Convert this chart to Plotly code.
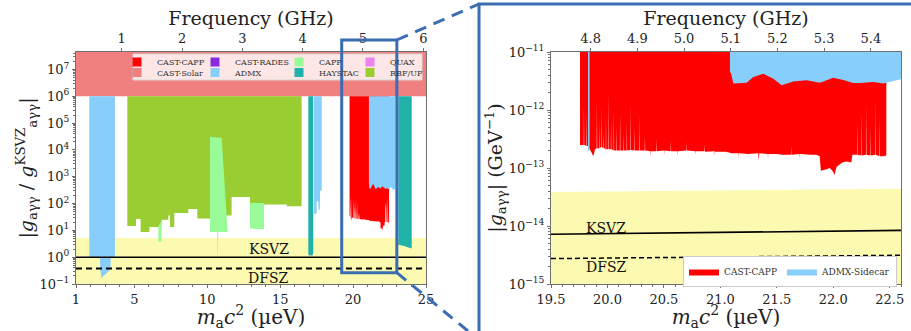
import numpy as np
import plotly.graph_objects as go

UEV_PER_GHZ = 4.1357
FONT = "DejaVu Serif"

# ---------------- data: left panel (|g / g_KSVZ|) ----------------
left_m_range = [1, 25]
left_logy_range = [-1, 7.65]
left_decades = [-1, 0, 1, 2, 3, 4, 5, 6, 7]
solar_floor = 1e6            # CAST-Solar limit (ratio)
band_top_ratio = 5.2         # yellow model band upper edge (ratio)
ksvz_ratio = 1.0
dfsz_ratio = 0.38

admx1_m = [1.91, 2.64, 2.66, 2.76, 2.87, 2.99, 3.10, 3.22, 3.36, 3.38, 3.67]
admx1_r = [1.0, 1.0, 0.35, 0.16, 0.20, 0.22, 0.25, 0.30, 0.35, 1.0, 1.0]

rbf_edges = [4.52, 5.11, 5.43, 6.03, 6.65, 6.87, 7.33, 7.45, 7.74, 8.70, 9.32, 10.19,
             11.67, 12.93, 13.89, 15.45, 16.47]
rbf_vals = [14.6, 26.6, 8.7, 13.4, 13.4, 25, 36, 13.4, 44, 63, 27.5, 36, 174, 105, 93, 79]

capp_strip_m = [6.65, 6.87]
capp_strip_lo = [3.7, 3.9]
capp_strip_hi = [13.4, 25]

capp_spike_lo_m = [10.19, 10.68, 10.70, 10.73, 10.75, 11.40]
capp_spike_lo = [8.7, 8.7, 1.2, 1.2, 8.7, 8.7]
capp_spike_hi_m = [10.19, 10.99, 11.40]
capp_spike_hi = [3.1e4, 2.8e4, 8.7]

capp_block_m = [12.93, 13.89]
capp_block_lo = [11.7, 11.0]
capp_block_hi = [105, 105]

haystac1_m = [16.93, 16.97, 17.22, 17.27]
haystac1_r = [1.4, 1.15, 1.15, 1.5]

admx2_m = [17.32, 17.50, 17.50, 17.62, 17.62, 17.72, 17.74, 17.85]
admx2_r = [42, 42, 120, 120, 60, 60, 300, 300]

haystac2_m = [23.10, 23.30, 23.50, 23.80, 24.00, 24.02]
haystac2_r = [2.9, 2.8, 2.6, 2.3, 2.1, 2.4]

# ---------------- data: right panel (|g| in GeV^-1) ----------------
right_m_range = [19.5, 22.6]
right_logy_range = [-15, -11]
right_decades = [-15, -14, -13, -12, -11]

ksvz_m = [19.5, 22.6]
ksvz_g = [7.2e-15, 8.4e-15]
dfsz_g = [2.74e-15, 3.13e-15]
band_g = [3.85e-14, 4.4e-14]

# CAST-CAPP lower edge of the excluded region
cast_capp_m = [
    19.757, 19.790, 19.792, 19.794, 19.815, 19.817, 19.819, 19.830, 19.860, 19.875,
    19.890, 19.905, 19.907, 19.909, 19.925, 19.927, 19.929, 19.945, 19.947, 19.949,
    19.965, 19.967, 19.969, 19.985, 19.987, 19.989, 20.005, 20.007, 20.009, 20.030,
    20.032, 20.034, 20.055, 20.057, 20.059, 20.080, 20.082, 20.084, 20.110, 20.112,
    20.114, 20.140, 20.142, 20.144, 20.170, 20.172, 20.174, 20.200, 20.202, 20.204,
    20.240, 20.242, 20.244, 20.280, 20.282, 20.284, 20.330, 20.332, 20.334, 20.380,
    20.382, 20.384, 20.430, 20.432, 20.434, 20.500, 20.502, 20.504, 20.560, 20.562,
    20.564, 20.620, 20.622, 20.624, 20.700, 20.702, 20.704, 20.780, 20.782, 20.784,
    20.860, 20.862, 20.864, 20.950, 20.952, 20.954, 21.050, 21.100, 21.160, 21.162,
    21.164, 21.250, 21.335, 21.340, 21.345, 21.420, 21.422, 21.424, 21.500, 21.550,
    21.625, 21.627, 21.629, 21.700, 21.702, 21.704, 21.800, 21.850, 21.880, 21.890,
    21.940, 21.970, 22.000, 22.010, 22.020, 22.030, 22.080, 22.120, 22.160, 22.170,
    22.210, 22.212, 22.214, 22.250, 22.252, 22.254, 22.290, 22.292, 22.294, 22.330,
    22.332, 22.334, 22.370, 22.372, 22.374, 22.410, 22.412, 22.414, 22.440, 22.470]
cast_capp_g = [
    2.5e-13, 2.5e-13, 1.2e-12, 2.5e-13, 2.4e-13, 9.0e-13, 2.4e-13, 2.4e-13, 1.9e-13, 1.6e-13,
    2.1e-13, 2.2e-13, 1.5e-12, 2.2e-13, 2.2e-13, 6.0e-13, 2.2e-13, 2.3e-13, 1.1e-12, 2.3e-13,
    2.2e-13, 4.0e-13, 2.2e-13, 2.1e-13, 8.0e-13, 2.1e-13, 2.1e-13, 2.0e-12, 2.1e-13, 2.1e-13,
    7.0e-13, 2.1e-13, 2.0e-13, 1.0e-12, 2.0e-13, 2.0e-13, 5.0e-13, 2.0e-13, 2.0e-13, 9.0e-13,
    2.0e-13, 2.0e-13, 4.0e-13, 2.0e-13, 2.0e-13, 6.0e-13, 2.0e-13, 2.05e-13, 1.3e-12, 2.05e-13,
    2.0e-13, 5.0e-13, 2.0e-13, 2.0e-13, 8.0e-13, 2.0e-13, 2.0e-13, 3.5e-13, 2.0e-13, 1.95e-13,
    1.6e-13, 1.95e-13, 1.95e-13, 3.2e-13, 1.95e-13, 2.0e-13, 1.7e-13, 2.0e-13, 1.95e-13, 3.0e-13,
    1.95e-13, 1.95e-13, 1.65e-13, 1.95e-13, 2.0e-13, 2.8e-13, 2.0e-13, 1.95e-13, 1.7e-13, 1.95e-13,
    1.95e-13, 2.6e-13, 1.9e-13, 1.95e-13, 1.6e-13, 1.9e-13, 1.9e-13, 1.8e-13, 1.8e-13, 1.5e-13,
    1.8e-13, 1.75e-13, 1.8e-13, 1.35e-13, 1.8e-13, 1.75e-13, 1.45e-13, 1.75e-13, 1.75e-13, 1.7e-13,
    1.7e-13, 2.4e-13, 1.7e-13, 1.75e-13, 1.45e-13, 1.75e-13, 1.7e-13, 1.7e-13, 1.6e-13, 9.0e-14,
    9.5e-14, 1.0e-13, 8.5e-14, 7.5e-14, 9.0e-14, 1.05e-13, 1.25e-13, 1.3e-13, 1.25e-13, 1.7e-13,
    1.7e-13, 6.0e-13, 1.7e-13, 1.65e-13, 9.0e-13, 1.65e-13, 1.7e-13, 1.2e-12, 1.7e-13, 1.65e-13,
    5.0e-13, 1.65e-13, 1.7e-13, 1.5e-12, 1.7e-13, 1.6e-13, 8.0e-13, 1.6e-13, 1.6e-13, 1.65e-13]
cast_capp_top = 1e-11

sidecar_m = [21.085, 21.095, 21.115, 21.233, 21.292, 21.381, 21.469, 21.543, 21.646, 21.764,
             21.882, 22.000, 22.089, 22.178, 22.237, 22.355, 22.443, 22.532, 22.600, 22.750, 22.880]
sidecar_g = [4.5e-12, 4.3e-12, 2.85e-12, 2.95e-12, 3.7e-12, 4.2e-12, 3.45e-12, 2.67e-12, 3.1e-12, 3.25e-12,
             2.95e-12, 3.6e-12, 3.3e-12, 2.92e-12, 2.92e-12, 3.05e-12, 2.85e-12, 3.16e-12, 3.4e-12, 2.8e-12, 2.8e-12]
sidecar_stripe_m = [19.828, 19.842]
sidecar_stripe_g = [2.0e-13, 2.0e-13]

freq_ticks_left = [1, 2, 3, 4, 5, 6]
freq_ticks_right = [4.8, 4.9, 5.0, 5.1, 5.2, 5.3, 5.4]
mass_ticks_left = [1, 5, 10, 15, 20, 25]
mass_ticks_right = [19.5, 20.0, 20.5, 21.0, 21.5, 22.0, 22.5]

legend_cols = [["CAST-CAPP", "CAST-Solar"], ["CAST-RADES", "ADMX"],
               ["CAPP", "HAYSTAC"], ["QUAX", "RBF/UF"]]

# ---------------- styles ----------------
COL = {"CAST-CAPP": "#FF0000", "CAST-Solar": "#F08080", "CAST-RADES": "#8A2BE2",
       "ADMX": "#87CEFA", "CAPP": "#98FB98", "HAYSTAC": "#20B2AA", "QUAX": "#EE82EE",
       "RBF/UF": "#9ACD32", "ADMX-Sidecar": "#87CEFA"}
BAND = "#FBFAB0"
FRAME = "#6f6f6f"
BLUE = "#3A6DB2"

# plot area in pixels (fig 911 x 331)
PL, PR, PT, PB = 76, 901, 52, 284
PW, PH = PR - PL, PB - PT
left_dom = [0, (426 - PL) / PW]
right_dom = [(551 - PL) / PW, 1]

def px_x(p):
    return (p - PL) / PW

def px_y(p):
    return (PB - p) / PH

# left-panel conversion: |g| / g_KSVZ(m) with g_KSVZ proportional to m
K_KSVZ = float(np.mean(np.array(ksvz_g) / np.array(ksvz_m)))

def to_ratio(m, g):
    return list(np.array(g) / (K_KSVZ * np.array(m)))

def steps(edges, vals):
    xs, ys = [], []
    for i, v in enumerate(vals):
        xs += [edges[i], edges[i + 1]]
        ys += [v, v]
    return xs, ys

def pow10(k):
    return "10<sup>" + str(k).replace("-", "\u2212") + "</sup>"

fig = go.Figure()

def poly(lo_x, lo_y, hi_x, hi_y, color, axes):
    xs = list(lo_x) + list(hi_x)[::-1]
    ys = list(lo_y) + list(hi_y)[::-1]
    fig.add_trace(go.Scatter(x=xs, y=ys, fill="toself", fillcolor=color, mode="lines",
                             line=dict(width=0, color=color), showlegend=False,
                             hoverinfo="skip", xaxis=axes[0], yaxis=axes[1]))

def region(xs, lo, top, color, axes):
    poly(xs, lo, [xs[0], xs[-1]], [top, top], color, axes)

L = ("x", "y")
R = ("x2", "y2")

# ---- left panel ----
poly(left_m_range, [0.01, 0.01], left_m_range, [band_top_ratio] * 2, BAND, L)
poly(left_m_range, [solar_floor] * 2, left_m_range, [1e9, 1e9], COL["CAST-Solar"], L)
region(admx1_m, admx1_r, solar_floor, COL["ADMX"], L)
sx, sy = steps(rbf_edges, rbf_vals)
region(sx, sy, solar_floor, COL["RBF/UF"], L)
poly(capp_strip_m, capp_strip_lo, capp_strip_m, capp_strip_hi, COL["CAPP"], L)
poly(capp_spike_lo_m, capp_spike_lo, capp_spike_hi_m, capp_spike_hi, COL["CAPP"], L)
poly(capp_block_m, capp_block_lo, capp_block_m, capp_block_hi, COL["CAPP"], L)
region(haystac1_m, haystac1_r, solar_floor, COL["HAYSTAC"], L)
region(admx2_m, admx2_r, solar_floor, COL["ADMX"], L)
region(cast_capp_m, to_ratio(cast_capp_m, cast_capp_g), solar_floor, COL["CAST-CAPP"], L)
region(sidecar_m, to_ratio(sidecar_m, sidecar_g), solar_floor, COL["ADMX"], L)
region(haystac2_m, haystac2_r, solar_floor, COL["HAYSTAC"], L)
fig.add_trace(go.Scatter(x=left_m_range, y=[ksvz_ratio] * 2, mode="lines",
                         line=dict(color="black", width=1.6), showlegend=False, hoverinfo="skip"))
fig.add_trace(go.Scatter(x=left_m_range, y=[dfsz_ratio] * 2, mode="lines",
                         line=dict(color="black", width=2, dash="6px,4px"), showlegend=False, hoverinfo="skip"))

# ---- right panel ----
poly(right_m_range, [1e-16, 1e-16], right_m_range, band_g, BAND, R)
region(cast_capp_m, cast_capp_g, cast_capp_top, COL["CAST-CAPP"], R)
region(sidecar_m, sidecar_g, cast_capp_top, COL["ADMX-Sidecar"], R)
region(sidecar_stripe_m, sidecar_stripe_g, cast_capp_top, COL["ADMX-Sidecar"], R)
fig.add_trace(go.Scatter(x=ksvz_m, y=ksvz_g, mode="lines", line=dict(color="black", width=1.6),
                         showlegend=False, hoverinfo="skip", xaxis="x2", yaxis="y2"))
fig.add_trace(go.Scatter(x=ksvz_m, y=dfsz_g, mode="lines", line=dict(color="black", width=1.5, dash="5px,3px"),
                         showlegend=False, hoverinfo="skip", xaxis="x2", yaxis="y2"))

# invisible anchors for the frequency axes
fig.add_trace(go.Scatter(x=[freq_ticks_left[0]], y=[1], xaxis="x3", yaxis="y", mode="markers",
                         marker=dict(opacity=0), showlegend=False, hoverinfo="skip"))
fig.add_trace(go.Scatter(x=[freq_ticks_right[0]], y=[1e-12], xaxis="x4", yaxis="y2", mode="markers",
                         marker=dict(opacity=0), showlegend=False, hoverinfo="skip"))

# ---- legends ----
legend_layout = {}
col_text_px = [157, 235, 319, 390]
row_center_px = [62, 72.5]
k = 0
for ci, col in enumerate(legend_cols):
    for ri, name in enumerate(col):
        k += 1
        lid = "legend" if k == 1 else f"legend{k}"
        fig.add_trace(go.Scatter(x=[None], y=[None], name=name, mode="markers",
                                 marker=dict(symbol="square", size=9, color=COL[name]),
                                 legend=lid, showlegend=True))
        legend_layout[lid] = dict(x=px_x(col_text_px[ci] - 40), xanchor="left",
                                  y=px_y(row_center_px[ri]), yanchor="middle",
                                  bgcolor="rgba(0,0,0,0)", borderwidth=0, itemwidth=30,
                                  font=dict(family=FONT, size=8, color="#333"),
                                  tracegroupgap=0)
k += 1
rl = f"legend{k}"
for name, cname in [("CAST-CAPP", "CAST-CAPP"), ("ADMX-Sidecar", "ADMX-Sidecar")]:
    fig.add_trace(go.Scatter(x=[None], y=[None], name=name, fill="toself", mode="lines",
                             fillcolor=COL[cname], line=dict(width=0, color=COL[cname]),
                             legend=rl, showlegend=True, xaxis="x2", yaxis="y2"))
legend_layout[rl] = dict(x=px_x(897), xanchor="right", y=px_y(271.5), yanchor="middle",
                         orientation="h", bgcolor="white", bordercolor="#cccccc", borderwidth=1,
                         itemwidth=30, font=dict(family=FONT, size=9, color="#333"))

# ---- axes ----
tickfont = dict(family=FONT, size=13, color="#222")
common = dict(showgrid=False, zeroline=False, ticks="outside", ticklen=3, tickcolor=FRAME,
              showline=True, linecolor=FRAME, linewidth=1, mirror=True, tickfont=tickfont,
              automargin=False)
minor_log = dict(ticks="outside", ticklen=2, tickcolor=FRAME, dtick="D1")

m_title = "<i>m</i><sub>a</sub><i>c</i><sup>2</sup> (µeV)"
fig.update_layout(
    template="none",
    width=911, height=331,
    margin=dict(l=PL, r=911 - PR, t=PT, b=331 - PB, pad=0),
    paper_bgcolor="white", plot_bgcolor="white",
    font=dict(family=FONT, color="#222"),
    xaxis=dict(domain=left_dom, anchor="y", range=left_m_range, tickvals=mass_ticks_left,
               minor=dict(ticks="outside", ticklen=2, tickcolor=FRAME, dtick=1),
               title=dict(text=m_title, font=dict(family=FONT, size=20), standoff=0), **common),
    yaxis=dict(domain=[0, 1], anchor="x", type="log", range=left_logy_range,
               tickvals=[10.0 ** d for d in left_decades], ticktext=[pow10(d) for d in left_decades],
               minor=minor_log,
               title=dict(text="|<i>g</i><sub>aγγ</sub> / <i>g</i><sup>KSVZ</sup><sub>aγγ</sub>|",
                          font=dict(family=FONT, size=19), standoff=0),
               **common),
    xaxis2=dict(domain=right_dom, anchor="y2", range=right_m_range,
                tickvals=mass_ticks_right, tickformat=".1f",
                minor=dict(ticks="outside", ticklen=2, tickcolor=FRAME, dtick=0.1),
                title=dict(text=m_title, font=dict(family=FONT, size=20), standoff=0), **common),
    yaxis2=dict(domain=[0, 1], anchor="x2", type="log", range=right_logy_range,
                tickvals=[10.0 ** d for d in right_decades], ticktext=[pow10(d) for d in right_decades],
                minor=minor_log,
                title=dict(text="|<i>g</i><sub>aγγ</sub>| (GeV<sup>−1</sup>)",
                           font=dict(family=FONT, size=19), standoff=0),
                **common),
    xaxis3=dict(overlaying="x", side="top", anchor="y", automargin=False,
                range=[left_m_range[0] / UEV_PER_GHZ, left_m_range[1] / UEV_PER_GHZ],
                tickvals=freq_ticks_left, showgrid=False, zeroline=False, ticks="outside",
                ticklen=3, tickcolor=FRAME, tickfont=tickfont,
                title=dict(text="Frequency (GHz)", font=dict(family=FONT, size=19), standoff=0)),
    xaxis4=dict(overlaying="x2", side="top", anchor="y2", automargin=False,
                range=[right_m_range[0] / UEV_PER_GHZ, right_m_range[1] / UEV_PER_GHZ],
                tickvals=freq_ticks_right, tickformat=".1f", showgrid=False, zeroline=False,
                ticks="outside", ticklen=3, tickcolor=FRAME, tickfont=tickfont,
                title=dict(text="Frequency (GHz)", font=dict(family=FONT, size=19), standoff=0)),
    **legend_layout,
)

# ---- model labels ----
lab = dict(family=FONT, size=14, color="#111")
fig.add_annotation(x=14.2, y=np.log10(1.95), xref="x", yref="y", text="KSVZ", showarrow=False, font=lab)
fig.add_annotation(x=14.2, y=np.log10(0.17), xref="x", yref="y", text="DFSZ", showarrow=False, font=lab)
fig.add_annotation(x=19.99, y=np.log10(9.3e-15), xref="x2", yref="y2", text="KSVZ", showarrow=False, font=lab)
fig.add_annotation(x=19.99, y=np.log10(1.95e-15), xref="x2", yref="y2", text="DFSZ", showarrow=False, font=lab)

# ---- decorations: legend frame, zoom box and connectors ----
fig.add_shape(type="rect", xref="paper", yref="paper", x0=px_x(133), x1=px_x(422),
              y0=px_y(80), y1=px_y(54), fillcolor="rgba(255,255,255,0.8)",
              line=dict(color="#d8d8d8", width=1), layer="above")

def mx_left(m):
    return left_dom[0] + (m - left_m_range[0]) / (left_m_range[1] - left_m_range[0]) * (left_dom[1] - left_dom[0])

zx0, zx1 = 19.22, 23.0
zy0, zy1 = px_y(272.7), px_y(40)
fig.add_shape(type="rect", xref="paper", yref="paper", x0=mx_left(zx0), x1=mx_left(zx1),
              y0=zy0, y1=zy1, line=dict(color=BLUE, width=3), layer="above")
box_x, box_top, box_bot = px_x(479), px_y(4), px_y(340)
fig.add_shape(type="line", xref="paper", yref="paper", x0=mx_left(zx1), y0=zy1, x1=box_x, y1=box_top,
              line=dict(color=BLUE, width=3, dash="12px,8px"), layer="above")
fig.add_shape(type="line", xref="paper", yref="paper", x0=mx_left(zx1), y0=zy0, x1=box_x, y1=box_bot,
              line=dict(color=BLUE, width=3, dash="12px,8px"), layer="above")
fig.add_shape(type="rect", xref="paper", yref="paper", x0=box_x, x1=px_x(930), y0=box_bot, y1=box_top,
              line=dict(color=BLUE, width=3), layer="above")

fig.write_html("out.html", config={"displayModeBar": False},
               post_script="document.body.style.margin='0px';")
